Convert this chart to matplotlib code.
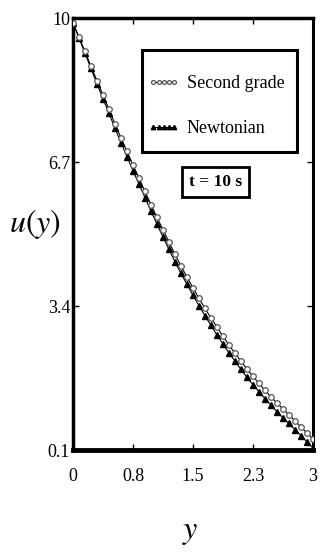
import matplotlib
matplotlib.use("Agg")
import matplotlib.pyplot as plt
from matplotlib.patches import Rectangle

plt.rcParams["font.family"] = "Liberation Serif"
plt.rcParams["mathtext.fontset"] = "stix"

# valores (passo de 0.075 em y)
y_vals = [0.0, 0.075, 0.15, 0.225, 0.3, 0.375, 0.45, 0.525, 0.6, 0.675,
          0.75, 0.825, 0.9, 0.975, 1.05, 1.125, 1.2, 1.275, 1.35, 1.425,
          1.5, 1.575, 1.65, 1.725, 1.8, 1.875, 1.95, 2.025, 2.1, 2.175,
          2.25, 2.325, 2.4, 2.475, 2.55, 2.625, 2.7, 2.775, 2.85, 2.925, 3.0]
u_newtoniano = [9.90, 9.55, 9.20, 8.85, 8.50, 8.16, 7.82, 7.48, 7.15, 6.83,
                6.51, 6.20, 5.89, 5.58, 5.28, 4.99, 4.70, 4.42, 4.15, 3.90,
                3.65, 3.41, 3.18, 2.96, 2.74, 2.53, 2.33, 2.14, 1.95, 1.77,
                1.60, 1.44, 1.28, 1.13, 0.98, 0.84, 0.71, 0.57, 0.43, 0.29, 0.15]
u_segundo_grau = [9.90, 9.57, 9.24, 8.90, 8.57, 8.24, 7.91, 7.58, 7.26, 6.95,
                  6.64, 6.34, 6.03, 5.73, 5.44, 5.15, 4.87, 4.59, 4.32, 4.07,
                  3.82, 3.58, 3.35, 3.13, 2.92, 2.71, 2.51, 2.32, 2.14, 1.96,
                  1.79, 1.63, 1.47, 1.32, 1.18, 1.04, 0.91, 0.77, 0.63, 0.49, 0.36]

xticks = [0, 0.75, 1.5, 2.25, 3]
xtick_labels = ["0", "0.8", "1.5", "2.3", "3"]
yticks = [0.1, 3.4, 6.7, 10]
ytick_labels = ["0.1", "3.4", "6.7", "10"]

fig = plt.figure(figsize=(3.2, 5.55), dpi=100)
ax = fig.add_axes([0.228, 0.189, 0.75, 0.778])

ax.plot(y_vals, u_newtoniano, color="black", lw=0.8, marker="^", ms=4.5,
        mfc="black", mec="black", label="Newtonian", zorder=3)
ax.plot(y_vals, u_segundo_grau, color="black", lw=0.8, marker="o", ms=4,
        mfc="white", mec="#555555", mew=0.9, label="Second grade", zorder=4)

ax.set_xlim(0, 3)
ax.set_ylim(0.1, 10)
ax.set_xticks(xticks)
ax.set_xticklabels(xtick_labels)
ax.set_yticks(yticks)
ax.set_yticklabels(ytick_labels)
ax.tick_params(direction="in", length=4, width=1, top=True, right=True,
               labelsize=13)
ax.tick_params(axis="x", pad=13)
ax.tick_params(axis="y", pad=2)

ax.spines["left"].set_linewidth(2.5)
ax.spines["bottom"].set_linewidth(3.5)
ax.spines["top"].set_linewidth(2.5)
ax.spines["right"].set_linewidth(2.2)

# caixa da legenda desenhada à parte para acertar as margens
ax.add_patch(Rectangle((0.2875, 0.69), 0.645, 0.236, transform=ax.transAxes,
                       fc="white", ec="black", lw=2.2, zorder=5))
handles, labels = ax.get_legend_handles_labels()
leg = ax.legend(handles[::-1], labels[::-1], loc="upper left",
                bbox_to_anchor=(0.3125, 0.868), fontsize=13, numpoints=5,
                markerscale=0.7, handlelength=1.75, handletextpad=0.4,
                labelspacing=1.55, borderpad=0, borderaxespad=0,
                frameon=False)
leg.set_zorder(6)

ax.text(0.595, 0.62, "t = 10 s", transform=ax.transAxes, fontsize=12.5,
        fontweight="bold", ha="center", va="center",
        bbox=dict(boxstyle="square,pad=0.4", fc="white", ec="black", lw=2))

fig.text(0.11, 0.597, "$u(y)$", fontsize=23, ha="center", va="center")
fig.text(0.594, 0.04, "$y$", fontsize=23, ha="center", va="center")

fig.savefig("out.png", dpi=100)
